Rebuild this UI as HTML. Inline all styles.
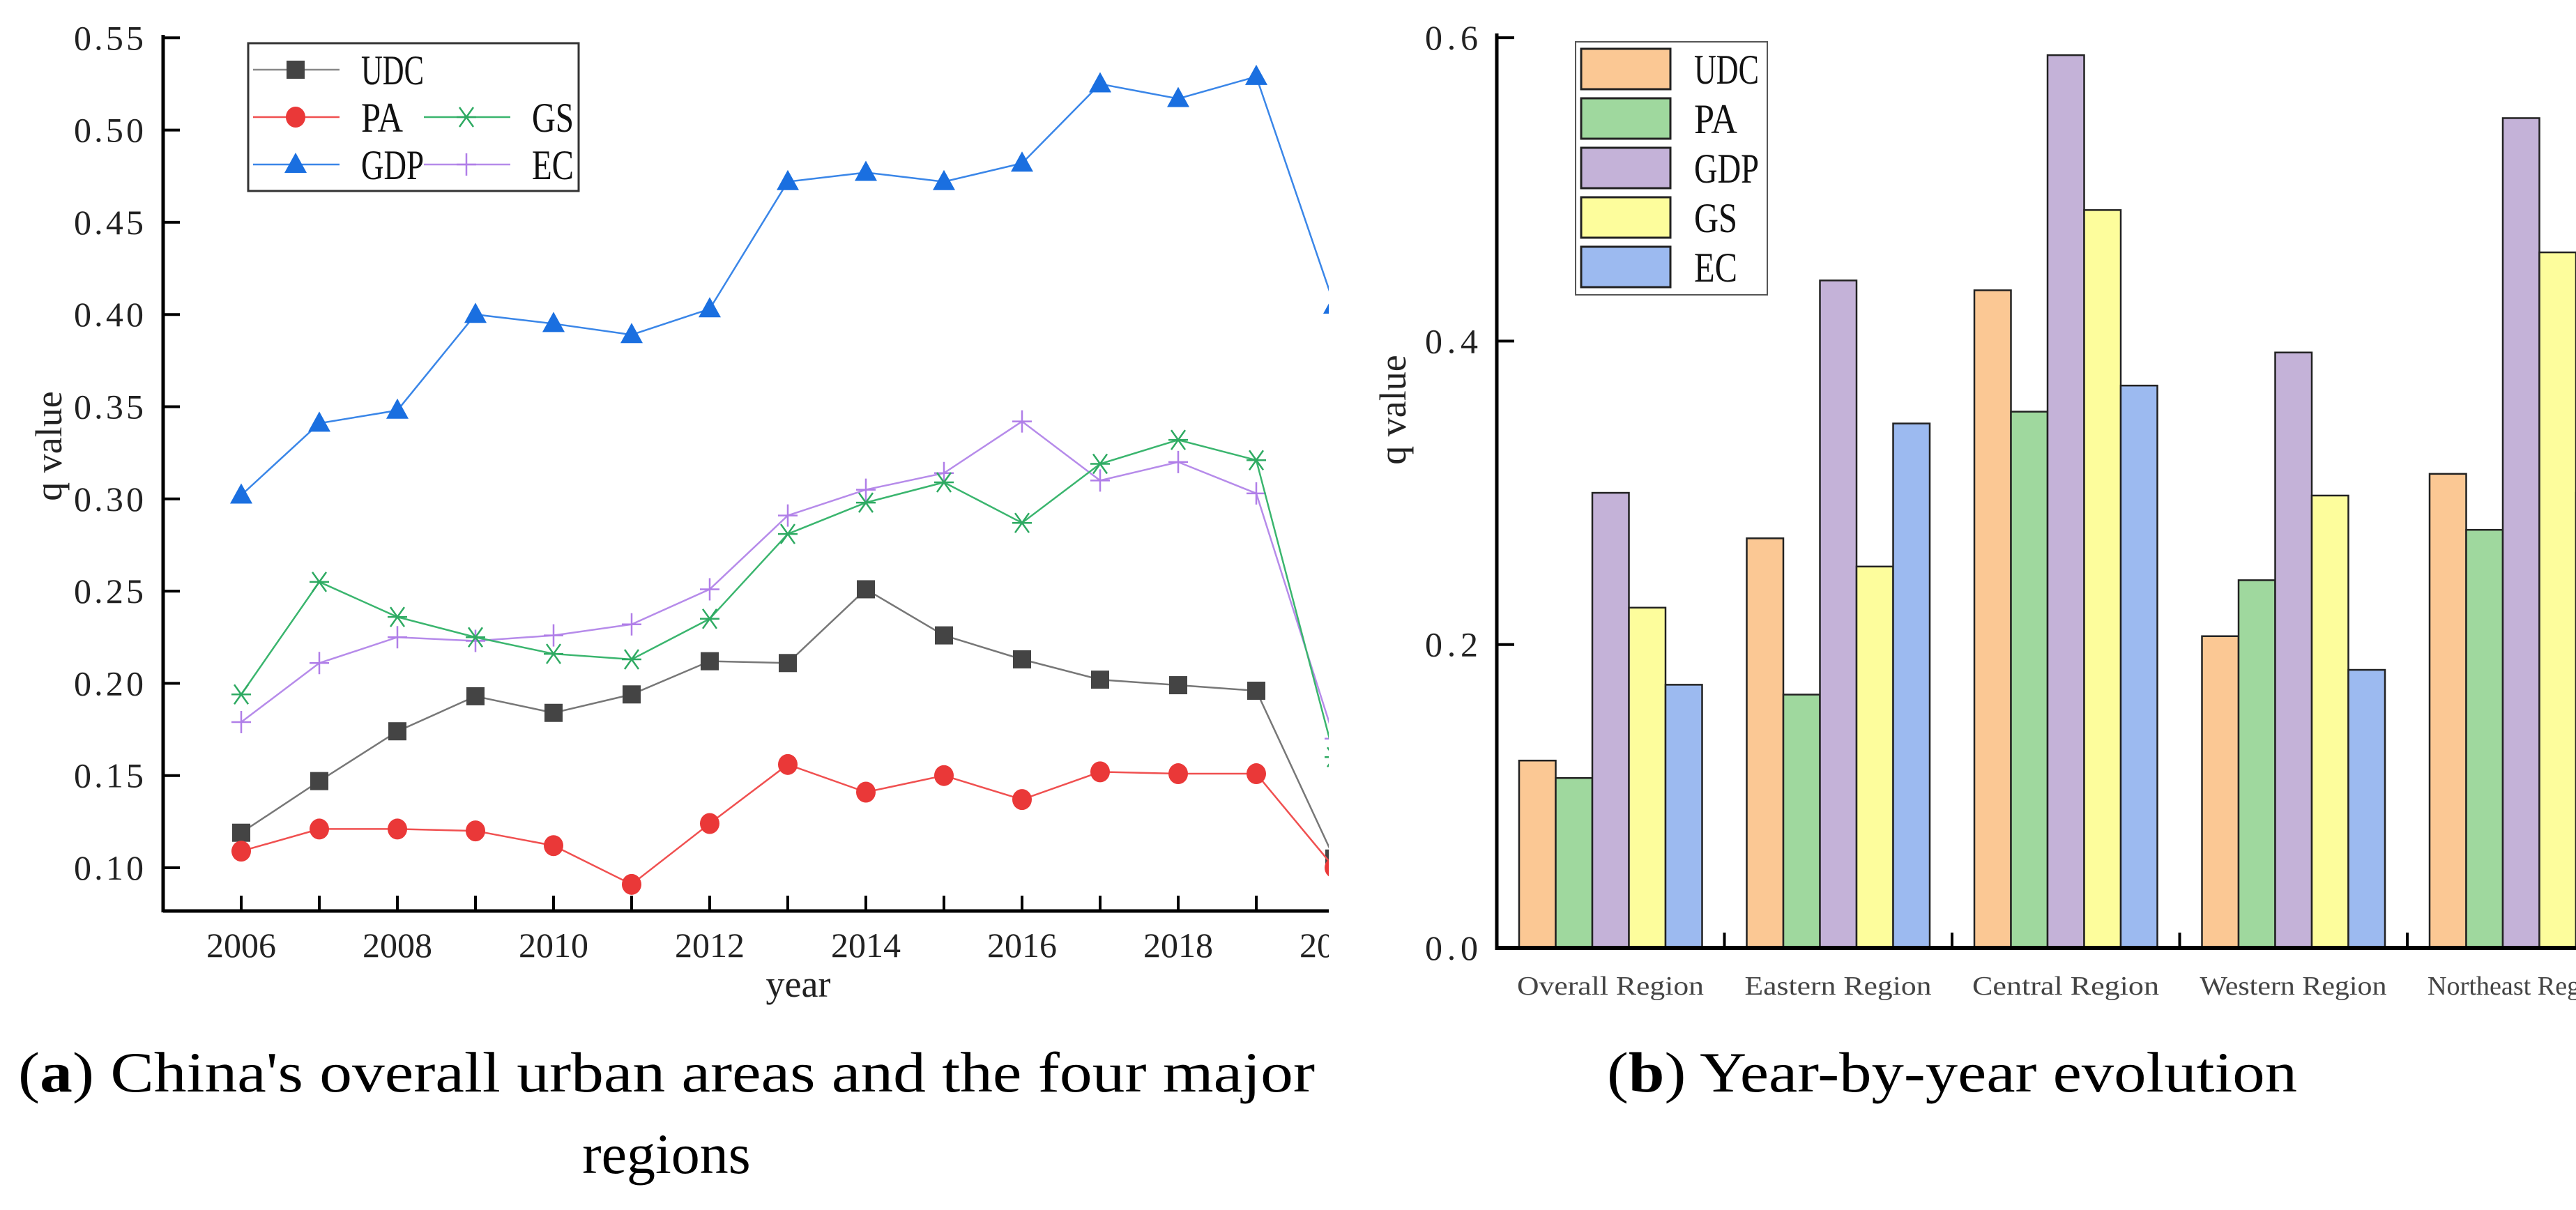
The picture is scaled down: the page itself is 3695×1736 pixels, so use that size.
<!DOCTYPE html>
<html><head><meta charset="utf-8"><style>
html,body{margin:0;padding:0;background:#fff;}
svg{display:block;font-family:"Liberation Serif",serif;}
</style></head><body>
<svg id="fig" width="3695" height="1736" viewBox="0 0 3695 1736" xmlns="http://www.w3.org/2000/svg">
<defs>
<clipPath id="clipL"><rect x="0" y="0" width="1906" height="1736"/></clipPath>
</defs>
<g id="left" clip-path="url(#clipL)"></g>
<g id="right"></g>
<text x="956" y="1566" font-size="82" text-anchor="middle" textLength="1860" lengthAdjust="spacingAndGlyphs">(<tspan font-weight="bold">a</tspan>) China's overall urban areas and the four major</text>
<text x="956" y="1683" font-size="82" text-anchor="middle">regions</text>
<text x="2800" y="1566" font-size="82" text-anchor="middle" textLength="990" lengthAdjust="spacingAndGlyphs">(<tspan font-weight="bold">b</tspan>) Year-by-year evolution</text>
</svg>
<script>
// ---- line chart data ----
const years = [2006,2007,2008,2009,2010,2011,2012,2013,2014,2015,2016,2017,2018,2019,2020];
const udc = [0.119,0.147,0.174,0.193,0.184,0.194,0.212,0.211,0.251,0.226,0.213,0.202,0.199,0.196,0.105];
const pa  = [0.109,0.121,0.121,0.120,0.112,0.091,0.124,0.156,0.141,0.150,0.137,0.152,0.151,0.151,0.100];
const gdp = [0.302,0.341,0.348,0.400,0.395,0.389,0.403,0.472,0.477,0.472,0.482,0.525,0.517,0.529,0.405];
const gs  = [0.194,0.255,0.236,0.225,0.216,0.213,0.235,0.281,0.298,0.309,0.287,0.319,0.332,0.321,0.160];
const ec  = [0.179,0.211,0.225,0.223,0.226,0.232,0.251,0.291,0.305,0.314,0.342,0.310,0.320,0.303,0.170];
const yTicksL = [0.10,0.15,0.20,0.25,0.30,0.35,0.40,0.45,0.50,0.55];
const xTickLabelsL = [2006,2008,2010,2012,2014,2016,2018,2020];
// ---- bar chart data ----
const regions = ["Overall Region","Eastern Region","Central Region","Western Region","Northeast Region"];
const barUDC = [0.1235,0.270,0.4335,0.2055,0.3125];
const barPA  = [0.112,0.167,0.3535,0.2424,0.2756];
const barGDP = [0.300,0.440,0.5885,0.3925,0.547];
const barGS  = [0.2243,0.2514,0.4864,0.2982,0.4585];
const barEC  = [0.1735,0.3457,0.3707,0.1833,0.300];
const yTicksR = [0.0,0.2,0.4,0.6];

const NS="http://www.w3.org/2000/svg";
function mk(tag, attrs, parent){const e=document.createElementNS(NS,tag);for(const k in attrs)e.setAttribute(k,attrs[k]);parent.appendChild(e);return e;}

// ---- left chart ----
const L=document.getElementById('left');
const xL=y=>346+(y-2006)*112;
const yL=v=>1245-(v-0.10)/0.05*132.3;
let e;
e=mk('line',{x1:234,y1:1307,x2:1906,y2:1307,stroke:'#000','stroke-width':5},L);


e=mk('line',{x1:234,y1:50,x2:234,y2:1309,stroke:'#000','stroke-width':5},L);


yTicksL.forEach(v=>{
  const y=yL(v);
  e=mk('line',{x1:234,y1:y,x2:258,y2:y,stroke:'#000','stroke-width':4},L);
  
  
  e=mk('text',{x:206,y:y+17,'font-size':50,'text-anchor':'end',fill:'#222',textLength:100,lengthAdjust:'spacing'},L);
  e.textContent=v.toFixed(2);
  
  
});
years.forEach(yr=>{
  const x=xL(yr);
  e=mk('line',{x1:x,y1:1307,x2:x,y2:1285,stroke:'#000','stroke-width':4},L);
  
  
});
xTickLabelsL.forEach(yr=>{
  e=mk('text',{x:xL(yr),y:1373,'font-size':50,'text-anchor':'middle',fill:'#222'},L);
  e.textContent=yr;
  
  
});
e=mk('text',{x:1145,y:1430,'font-size':54,'text-anchor':'middle',fill:'#222'},L);
e.textContent='year';


e=mk('text',{x:0,y:0,'font-size':54,'text-anchor':'middle',fill:'#222',transform:'translate(88,640) rotate(-90)'},L);
e.textContent='q value';



function marker(type,x,y,color,g){
  if(type==='sq') return mk('rect',{x:x-13,y:y-13,width:26,height:26,fill:color},g);
  if(type==='ci') return mk('ellipse',{cx:x,cy:y,rx:14,ry:15,fill:color},g);
  if(type==='tr') return mk('polygon',{points:`${x},${y-17} ${x-16},${y+12} ${x+16},${y+12}`,fill:color},g);
  if(type==='st'){const p=mk('path',{d:`M${x-14},${y}H${x+14}M${x-10},${y-14}L${x+10},${y+14}M${x+10},${y-14}L${x-10},${y+14}`,stroke:color,'stroke-width':2.5,fill:'none'},g);return p;}
  if(type==='pl') return mk('path',{d:`M${x-14},${y}H${x+14}M${x},${y-16}V${y+16}`,stroke:color,'stroke-width':2.5,fill:'none'},g);
}
const series=[
  {name:'gdp',vals:gdp,color:'#1a6fe0',line:'#3a86e8',m:'tr'},
  {name:'ec',vals:ec,color:'#b07ee8',line:'#b68bea',m:'pl'},
  {name:'gs',vals:gs,color:'#2eaa62',line:'#3ab56e',m:'st'},
  {name:'udc',vals:udc,color:'#444',line:'#777',m:'sq'},
  {name:'pa',vals:pa,color:'#ea3838',line:'#f05050',m:'ci'}
];
series.forEach(s=>{
  const g=mk('g',{},L);
  
  
  const pts=s.vals.map((v,i)=>xL(years[i])+','+yL(v)).join(' ');
  e=mk('polyline',{points:pts,fill:'none',stroke:s.line,'stroke-width':2.5},g);
  
  
  s.vals.forEach((v,i)=>{
    e=marker(s.m,xL(years[i]),yL(v),s.color,g);
    
    
  });
});
// legend left
const lg=mk('g',{},L);


mk('rect',{x:356,y:62,width:474,height:212,fill:'#fff',stroke:'#333','stroke-width':3},lg);
const legL=[
  {t:'UDC',x:363,y:100,m:'sq',c:'#444',l:'#888'},
  {t:'PA',x:363,y:168,m:'ci',c:'#ea3838',l:'#f05050'},
  {t:'GDP',x:363,y:236,m:'tr',c:'#1a6fe0',l:'#3a86e8'},
  {t:'GS',x:608,y:168,m:'st',c:'#2eaa62',l:'#3ab56e'},
  {t:'EC',x:608,y:236,m:'pl',c:'#b07ee8',l:'#b68bea'}
];
legL.forEach(it=>{
  const g=mk('g',{},lg);
  
  
  mk('line',{x1:it.x,y1:it.y,x2:it.x+124,y2:it.y,stroke:it.l,'stroke-width':2.5},g);
  marker(it.m,it.x+61,it.y,it.c,g);
  const t=mk('text',{x:it.x+155,y:it.y+21,'font-size':60,fill:'#111',textLength:it.t.length*30,lengthAdjust:'spacingAndGlyphs'},g);
  t.textContent=it.t;
});

// ---- right chart ----
const R=document.getElementById('right');
const y0=1360, perUnit=435.3/0.2;
const yR=v=>y0-v*perUnit;
const bandX=i=>2147+i*326.5;
const bw=52.5;
const barSeries=[
  {n:'udc',v:barUDC,c:'#fbc894'},
  {n:'pa',v:barPA,c:'#9fd89e'},
  {n:'gdp',v:barGDP,c:'#c4b2d8'},
  {n:'gs',v:barGS,c:'#fdfd9c'},
  {n:'ec',v:barEC,c:'#9cbaf0'}
];
regions.forEach((r,i)=>{
  const start=bandX(i)+32;
  barSeries.forEach((s,j)=>{
    const v=s.v[i];
    e=mk('rect',{x:start+j*bw,y:yR(v),width:bw,height:y0-yR(v),fill:s.c,stroke:'#222','stroke-width':2.5},R);
    
    
  });
  e=mk('text',{x:bandX(i)+163,y:1427,'font-size':38,'text-anchor':'middle',fill:'#444',textLength:268,lengthAdjust:'spacingAndGlyphs'},R);
  e.textContent=r;
  
  
  if(i>0){
    e=mk('line',{x1:bandX(i),y1:y0,x2:bandX(i),y2:y0-22,stroke:'#000','stroke-width':4},R);
    
    
  }
});
e=mk('line',{x1:2145,y1:y0,x2:3695,y2:y0,stroke:'#000','stroke-width':6},R);


e=mk('line',{x1:2147,y1:48,x2:2147,y2:y0+3,stroke:'#000','stroke-width':5},R);


yTicksR.forEach(v=>{
  const y=yR(v);
  e=mk('line',{x1:2147,y1:y,x2:2172,y2:y,stroke:'#000','stroke-width':4},R);
  
  
  e=mk('text',{x:2120,y:y+17,'font-size':50,'text-anchor':'end',fill:'#222',textLength:76,lengthAdjust:'spacing'},R);
  e.textContent=v.toFixed(1);
  
  
});
e=mk('text',{x:0,y:0,'font-size':54,'text-anchor':'middle',fill:'#222',transform:'translate(2016,588) rotate(-90)'},R);
e.textContent='q value';


const lr=mk('g',{},R);


mk('rect',{x:2260,y:60,width:275,height:363,fill:'#fff',stroke:'#555','stroke-width':2},lr);
const legNames=['UDC','PA','GDP','GS','EC'];
barSeries.forEach((s,j)=>{
  const cy=99+j*71;
  const g=mk('g',{},lr);
  
  
  mk('rect',{x:2268,y:cy-29,width:128,height:58,fill:s.c,stroke:'#222','stroke-width':3},g);
  const t=mk('text',{x:2430,y:cy+21,'font-size':60,fill:'#111',textLength:legNames[j].length*31,lengthAdjust:'spacingAndGlyphs'},g);
  t.textContent=legNames[j];
});
</script>
</body></html>
